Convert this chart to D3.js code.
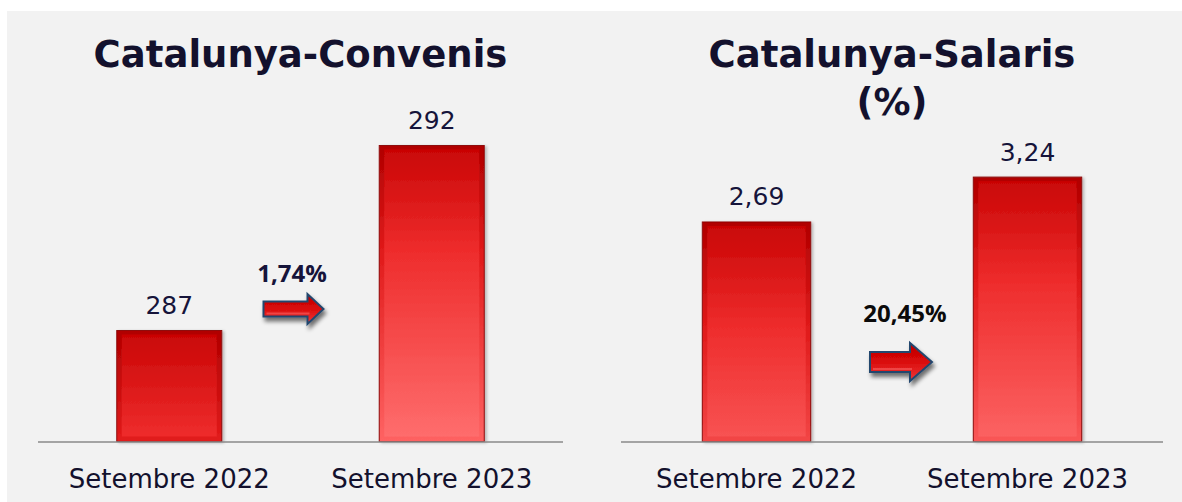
<!DOCTYPE html>
<html>
<head>
<meta charset="utf-8">
<script src="https://cdn.jsdelivr.net/npm/d3@7"></script>
<style>
  html, body { margin: 0; padding: 0; background: #ffffff; }
  svg { display: block; }
</style>
</head>
<body>
<svg id="chart" width="1182" height="502"></svg>
<script>
// ---------- DATA ----------
const categories = ["Setembre 2022", "Setembre 2023"];
const convenisValues = [287, 292];
const salarisValues = [2.69, 3.24];
const convenisTitle = ["Catalunya-Convenis"];
const salarisTitle = ["Catalunya-Salaris", "(%)"];
const convenisChange = "1,74%";
const salarisChange = "20,45%";

// ---------- SETUP ----------
const svg = d3.select("#chart");
const W = 1182, H = 502;
const caLocale = d3.formatLocale({ decimal: ",", thousands: ".", grouping: [3], currency: ["", " €"] });
const fmtInt = caLocale.format("d");
const fmt2 = caLocale.format(".2f");

const defs = svg.append("defs");

// panel background
svg.append("rect").attr("x", 7).attr("y", 11).attr("width", W - 7).attr("height", H - 11).attr("fill", "#f2f2f2");

// shadow filters
const fShadow = defs.append("filter").attr("id", "arrowShadow").attr("x", "-30%").attr("y", "-30%").attr("width", "170%").attr("height", "190%");
fShadow.append("feGaussianBlur").attr("in", "SourceAlpha").attr("stdDeviation", 2.2);
fShadow.append("feOffset").attr("dx", 2).attr("dy", 4).attr("result", "ob");
fShadow.append("feComponentTransfer").append("feFuncA").attr("type", "linear").attr("slope", 0.55);
const m1 = fShadow.append("feMerge");
m1.append("feMergeNode");
m1.append("feMergeNode").attr("in", "SourceGraphic");

const bShadow = defs.append("filter").attr("id", "barShadow").attr("x", "-10%").attr("y", "-5%").attr("width", "130%").attr("height", "115%");
bShadow.append("feGaussianBlur").attr("in", "SourceAlpha").attr("stdDeviation", 1.5);
bShadow.append("feOffset").attr("dx", 2).attr("dy", 1);
bShadow.append("feComponentTransfer").append("feFuncA").attr("type", "linear").attr("slope", 0.25);
const m2 = bShadow.append("feMerge");
m2.append("feMergeNode");
m2.append("feMergeNode").attr("in", "SourceGraphic");

// arrow gradient
const ag = defs.append("linearGradient").attr("id", "arrowGrad").attr("x1", 0).attr("y1", 0).attr("x2", 0).attr("y2", 1);
ag.append("stop").attr("offset", "0%").attr("stop-color", "#b80000");
ag.append("stop").attr("offset", "45%").attr("stop-color", "#d80808");
ag.append("stop").attr("offset", "100%").attr("stop-color", "#f03a3a");

const panels = [
  {
    id: "conv", title: convenisTitle, values: convenisValues, label: v => fmtInt(v),
    xRange: [38, 563], yDomain: [284, 295], change: convenisChange,
    changePos: { dx: -8.5, y: 282 }, arrow: { dx: -37, y: 294, w: 60, h: 30, shaft: 15, head: 16 },
    changeColor: "#16143a"
  },
  {
    id: "sal", title: salarisTitle, values: salarisValues, label: v => fmt2(v),
    xRange: [621, 1163], yDomain: [0, 3.5], change: salarisChange,
    changePos: { dx: 13, y: 322 }, arrow: { dx: -22, y: 343, w: 62, h: 38, shaft: 20, head: 22 },
    changeColor: "#0b0b0b"
  }
];

const baseY = 441.5;
const yTopByPanel = { conv: baseY - 11 * 37, sal: baseY - 3.5 * 81.6 };

panels.forEach(p => {
  const g = svg.append("g").attr("class", "panel-" + p.id);
  const x = d3.scaleBand().domain(categories).range(p.xRange).paddingInner(0.6).paddingOuter(0.3);
  const y = d3.scaleLinear().domain(p.yDomain).range([baseY, yTopByPanel[p.id]]);
  const cx = (p.xRange[0] + p.xRange[1]) / 2;

  // title
  const t = g.append("text").attr("text-anchor", "middle")
    .attr("font-family", "Verdana, 'DejaVu Sans', sans-serif").attr("font-weight", "bold")
    .attr("font-size", 37).attr("fill", "#13112d");
  p.title.forEach((line, i) => {
    t.append("tspan").attr("x", cx).attr("y", 67 + i * 48).text(line);
  });

  // bars
  const data = categories.map((c, i) => ({ c, v: p.values[i], i }));
  data.forEach(d => {
    const x0 = x(d.c), bw = x.bandwidth();
    const top = y(d.v), h = baseY - top;
    const gid = "g-" + p.id + "-" + d.i;
    const gid2 = gid + "-in";
    const lg = defs.append("linearGradient").attr("id", gid).attr("gradientUnits", "userSpaceOnUse")
      .attr("x1", 0).attr("y1", top).attr("x2", 0).attr("y2", top + 300);
    lg.append("stop").attr("offset", "0%").attr("stop-color", "#b00000");
    lg.append("stop").attr("offset", "35%").attr("stop-color", "#e01a1a");
    lg.append("stop").attr("offset", "100%").attr("stop-color", "#ff6464");
    const lg2 = defs.append("linearGradient").attr("id", gid2).attr("gradientUnits", "userSpaceOnUse")
      .attr("x1", 0).attr("y1", top).attr("x2", 0).attr("y2", top + 300);
    lg2.append("stop").attr("offset", "0%").attr("stop-color", "#c80404");
    lg2.append("stop").attr("offset", "35%").attr("stop-color", "#ee2c2c");
    lg2.append("stop").attr("offset", "100%").attr("stop-color", "#ff7070");

    const bg = g.append("g").attr("filter", "url(#barShadow)");
    bg.append("rect").attr("x", x0).attr("y", top).attr("width", bw).attr("height", h)
      .attr("fill", `url(#${gid})`).attr("stroke", "#8e0c0c").attr("stroke-width", 1);
    const inset = 5;
    bg.append("rect").attr("x", x0 + inset).attr("y", top + inset - 1).attr("width", bw - 2 * inset).attr("height", Math.max(0, h - 2 * inset + 1))
      .attr("fill", `url(#${gid2})`);

    g.append("text").attr("x", x0 + bw / 2).attr("y", top - 16.5).attr("text-anchor", "middle")
      .attr("font-family", "Verdana, 'DejaVu Sans', sans-serif").attr("font-size", 25).attr("fill", "#16143a")
      .text(p.label(d.v));
  });

  // axis baseline
  g.append("line").attr("x1", p.xRange[0]).attr("x2", p.xRange[1]).attr("y1", baseY + 0.5).attr("y2", baseY + 0.5)
    .attr("stroke", "#8a8a8a").attr("stroke-width", 1.6);

  // category labels via axis
  const axis = d3.axisBottom(x).tickSize(0).tickPadding(0);
  const ag2 = g.append("g").attr("transform", `translate(0, ${baseY})`).call(axis);
  ag2.select(".domain").remove();
  ag2.selectAll("text").attr("dy", null).attr("y", 46)
    .attr("font-family", "Verdana, 'DejaVu Sans', sans-serif").attr("font-size", 26).attr("fill", "#13112d");

  // change label
  g.append("text").attr("x", cx + p.changePos.dx).attr("y", p.changePos.y).attr("text-anchor", "middle")
    .attr("font-family", "'Open Sans', 'Liberation Sans', sans-serif").attr("font-weight", "bold").attr("font-size", 24)
    .attr("fill", p.changeColor).text(p.change);

  // arrow
  const a = p.arrow;
  const ax = cx + a.dx, ay = a.y, mid = ay + a.h / 2;
  const hx = ax + a.w - a.head;
  const path = d3.path();
  path.moveTo(ax, mid - a.shaft / 2);
  path.lineTo(hx, mid - a.shaft / 2);
  path.lineTo(hx, ay);
  path.lineTo(ax + a.w, mid);
  path.lineTo(hx, ay + a.h);
  path.lineTo(hx, mid + a.shaft / 2);
  path.lineTo(ax, mid + a.shaft / 2);
  path.closePath();
  g.append("path").attr("d", path.toString()).attr("fill", "url(#arrowGrad)")
    .attr("stroke", "#24476e").attr("stroke-width", 2).attr("stroke-linejoin", "miter")
    .attr("filter", "url(#arrowShadow)");
  // highlight on arrow shaft
  g.append("line").attr("x1", ax + 3).attr("x2", hx + 2).attr("y1", mid + a.shaft / 2 - 3).attr("y2", mid + a.shaft / 2 - 3)
    .attr("stroke", "#f25050").attr("stroke-width", 2).attr("opacity", 0.8);
});
</script>
</body>
</html>
